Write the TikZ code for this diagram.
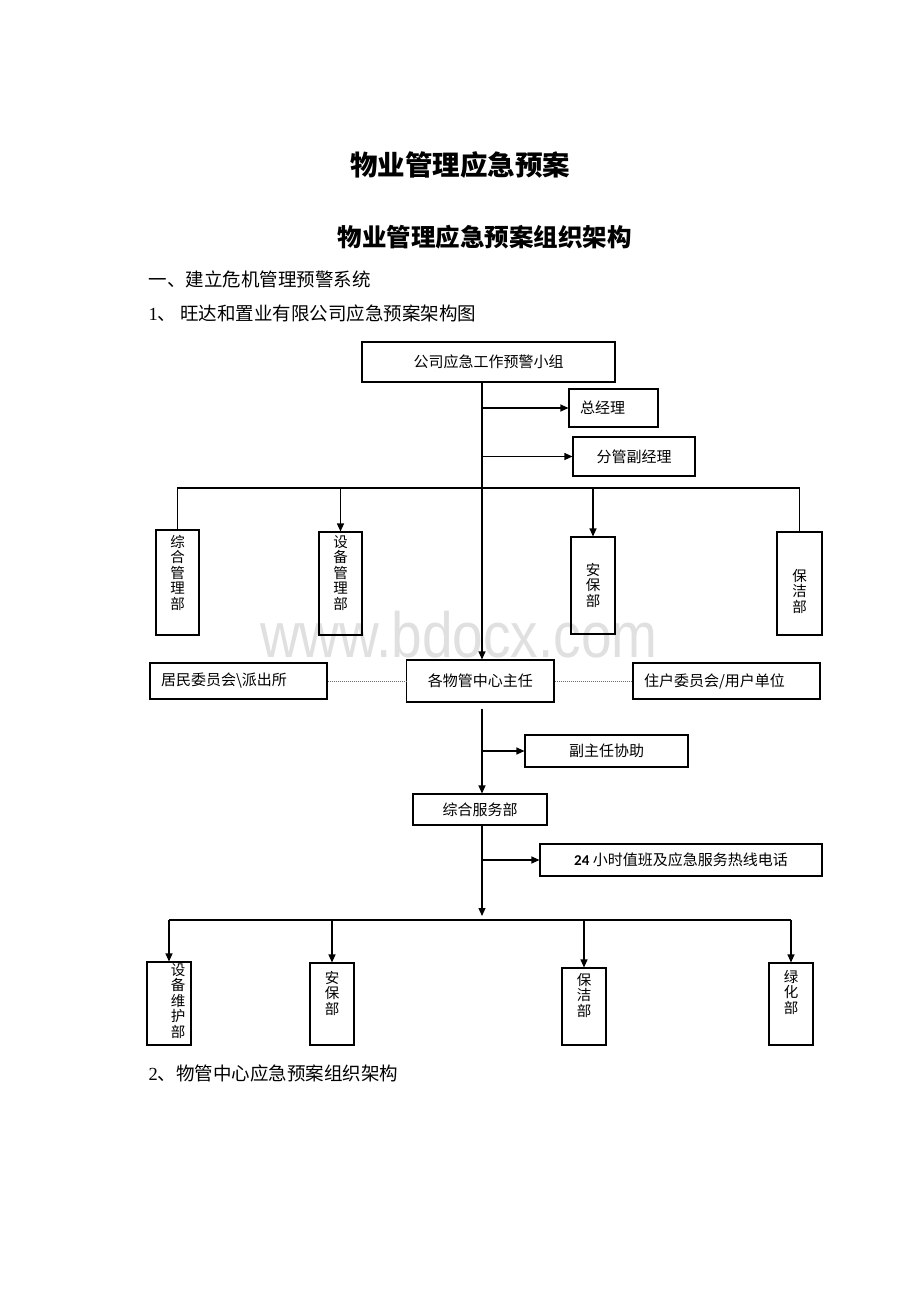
\documentclass[tikz,border=0pt]{standalone}
\usepackage{fontspec}
\setmainfont{Liberation Serif}
\newfontfamily\cjk{Noto Sans CJK SC}
\newfontfamily\cali{Carlito}
\newfontfamily\wmfont{Liberation Sans}
\usetikzlibrary{arrows.meta}
\definecolor{wmark}{RGB}{224,224,224}
\definecolor{dotline}{RGB}{110,110,110}

\begin{document}
\begin{tikzpicture}[x=1pt,y=-1pt,
        box/.style={draw, line width=1.1pt, inner sep=0pt, font=\cjk\fontsize{15}{15}\selectfont},
        lbox/.style={box, align=left, inner xsep=11pt},
        vtext/.style={anchor=north, align=center, inner sep=0pt, font=\cjk\fontsize{14.5}{15.5}\selectfont},
        arr/.style={line width=1.1pt, -{Triangle[length=8pt,width=7pt]}},
        link/.style={line width=1.1pt},
        dots/.style={dotline, line width=0.6pt, dash pattern=on 1pt off 1pt},
        heading/.style={anchor=west, font=\cjk\fontsize{18.5}{20}\selectfont}]
    \useasboundingbox (0,0) rectangle (920,1302);

    % watermark
    \node[anchor=base, text=wmark, font=\wmfont\fontsize{64}{64}\selectfont, xscale=0.86, transform shape] (wm) at (459,657) {www.bdocx.com};

    % titles
    \node[font=\cjk\bfseries\fontsize{27.5}{30}\selectfont] (title) at (460,165) {物业管理应急预案};
    \node[font=\cjk\bfseries\fontsize{24.5}{28}\selectfont] (subtitle) at (484.5,237) {物业管理应急预案组织架构};
    \node[heading] (sec1) at (145,279) {一、建立危机管理预警系统};
    \node[heading] (sec1a) at (145,313) {{\rmfamily 1}、 旺达和置业有限公司应急预案架构图};
    \node[heading] (sec2) at (145,1073) {{\rmfamily 2}、物管中心应急预案组织架构};

    \coordinate (trunk) at (482,0);
    \coordinate (bus1) at (0,488);
    \coordinate (bus2) at (0,920);

    % company level
    \node[box, minimum width=253, minimum height=40] (grp) at (488.5,362) {公司应急工作预警小组};
    \node[lbox, text width=67, minimum height=38] (gm) at (613.5,408) {总经理};
    \node[box, minimum width=122, minimum height=39] (vgm) at (634,456.5) {分管副经理};

    \node[draw, link, minimum width=43, minimum height=105] (d1) at (177.5,582.5) {};
    \node[draw, link, minimum width=43, minimum height=103] (d2) at (340.5,583.5) {};
    \node[draw, link, minimum width=44, minimum height=97] (d3) at (593,585.5) {};
    \node[draw, link, minimum width=45, minimum height=103] (d4) at (799.5,583.5) {};
    \node[vtext] (d1t) at (177.5,535) {综\\合\\管\\理\\部};
    \node[vtext] (d2t) at (340.5,535) {设\\备\\管\\理\\部};
    \node[vtext] (d3t) at (593,563) {安\\保\\部};
    \node[vtext] (d4t) at (799.5,569) {保\\洁\\部};

    % centre level
    \node[lbox, text width=155, minimum height=36] (res) at (238.5,681) {居民委员会\textbackslash 派出所};
    \node[box, minimum width=147.5, minimum height=42] (dir) at (480.25,681) {各物管中心主任};
    \node[lbox, text width=165, minimum height=36] (own) at (726.5,681) {住户委员会/用户单位};
    \node[box, minimum width=163, minimum height=32] (dep) at (606.5,751) {副主任协助};
    \node[box, minimum width=134, minimum height=31] (svc) at (480,809.5) {综合服务部};
    \node[box, minimum width=282, minimum height=32] (hot) at (681,860) {{\cali\bfseries 24} 小时值班及应急服务热线电话};

    \node[draw, link, minimum width=44, minimum height=83] (b1) at (169,1003.5) {};
    \node[draw, link, minimum width=44, minimum height=82] (b2) at (332,1004) {};
    \node[draw, link, minimum width=44, minimum height=77] (b3) at (584,1006.5) {};
    \node[draw, link, minimum width=44, minimum height=82] (b4) at (791,1004) {};
    \node[vtext] (b1t) at (178,963) {设\\备\\维\\护\\部};
    \node[vtext] (b2t) at (332,971) {安\\保\\部};
    \node[vtext] (b3t) at (584,973) {保\\洁\\部};
    \node[vtext] (b4t) at (791,970) {绿\\化\\部};

    % connectors
    \draw[arr] (grp.south -| trunk) -- (dir.north -| trunk);
    \draw[arr] (gm.west -| trunk) -- (gm.west);
    \draw[arr] (vgm.west -| trunk) -- (vgm.west);
    \draw[link] (d1.north) -- (d1.north |- bus1) -- (d4.north |- bus1) -- (d4.north);
    \draw[arr] (d2.north |- bus1) -- (d2.north);
    \draw[arr] (d3.north |- bus1) -- (d3.north);

    \draw[dots] (res.east) -- (dir.west);
    \draw[dots] (dir.east) -- (own.west);

    \draw[arr] ([yshift=-6pt]dir.south -| trunk) -- (svc.north -| trunk);
    \draw[arr] (dep.west -| trunk) -- (dep.west);
    \draw[arr] (hot.west -| trunk) -- (hot.west);
    \draw[arr] (svc.south -| trunk) -- ([yshift=4pt]bus2 -| trunk);
    \draw[link] (b1.north |- bus2) -- (b4.north |- bus2);
    \foreach \b in {b1,b2,b3,b4}
        \draw[arr] (\b.north |- bus2) -- (\b.north);
\end{tikzpicture}
\end{document}
